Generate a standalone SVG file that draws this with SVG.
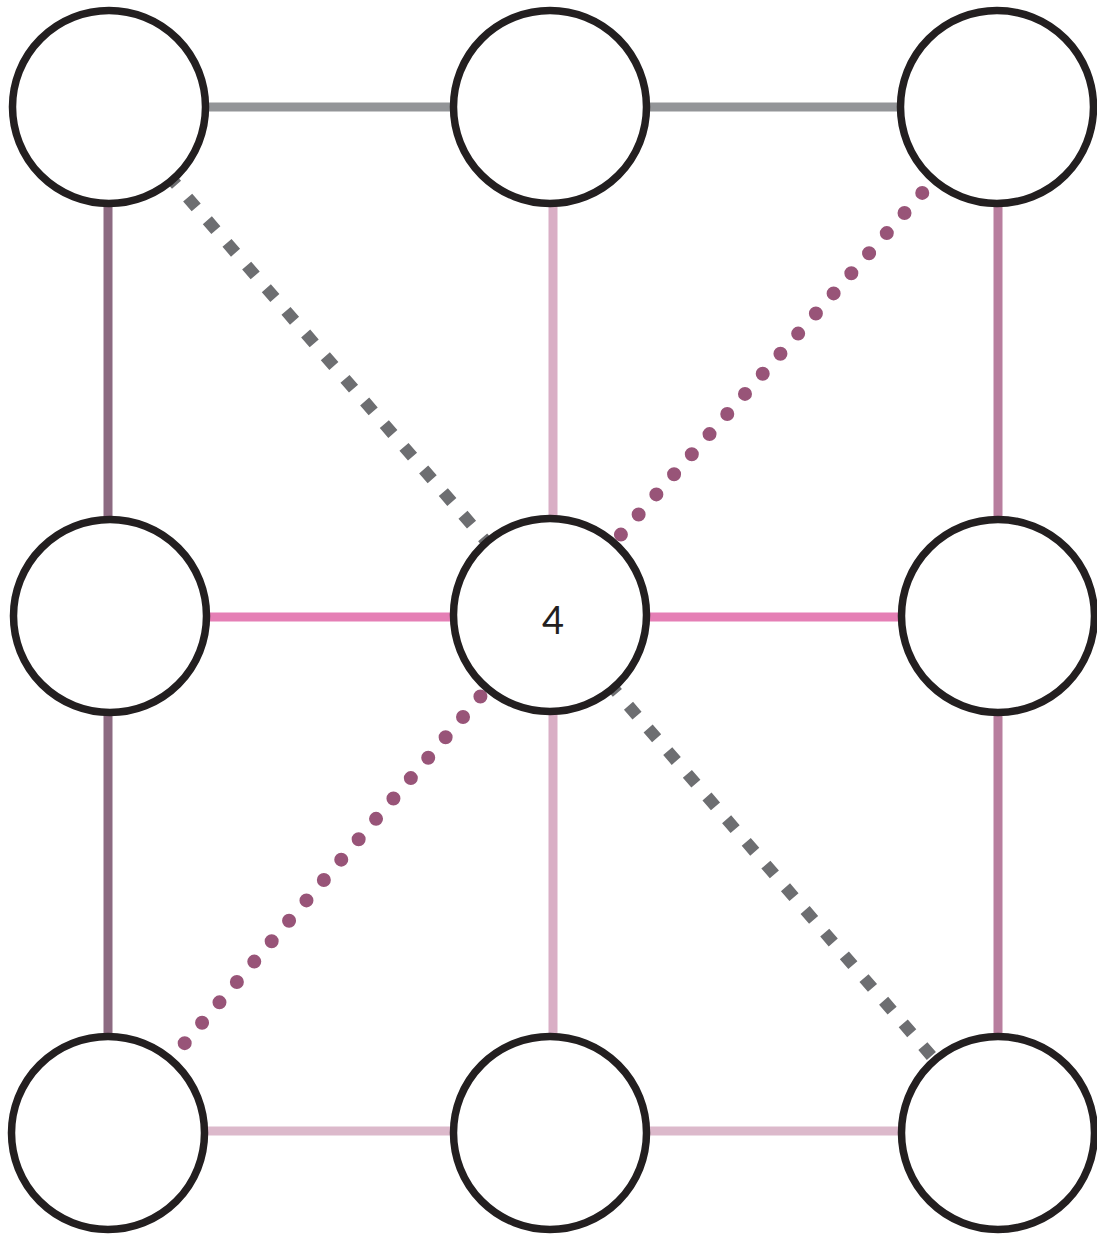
<svg xmlns="http://www.w3.org/2000/svg" width="1097" height="1235" viewBox="0 0 1097 1235">
<style>
.n{fill:#fff;stroke:#231f20;stroke-width:7.5}
.e{fill:none;stroke-width:9}
.dash{fill:none;stroke:#6d6e71;stroke-width:12;stroke-dasharray:13 17}
.dot{fill:none;stroke:#985478;stroke-width:14;stroke-linecap:round;stroke-dasharray:0 26.8}
.t{font-family:"Lato","Liberation Sans",sans-serif;font-size:38px;fill:#231f20;text-anchor:middle}
</style>
<rect width="1097" height="1235" fill="#fff"/>
<g id="connectors">
<line class="e" x1="109" y1="107" x2="550" y2="107" stroke="#939598"/>
<line class="e" x1="550" y1="107" x2="997" y2="107" stroke="#939598"/>
<line class="e" x1="108" y1="107" x2="108" y2="616" stroke="#8c6a81"/>
<line class="e" x1="108" y1="616" x2="108" y2="1133" stroke="#8c6a81"/>
<line class="e" x1="553" y1="107" x2="553" y2="616" stroke="#d9aec5"/>
<line class="e" x1="553" y1="616" x2="553" y2="1133" stroke="#d9aec5"/>
<line class="e" x1="998" y1="107" x2="998" y2="616" stroke="#b87e9e"/>
<line class="e" x1="998" y1="616" x2="998" y2="1133" stroke="#b87e9e"/>
<line class="e" x1="110" y1="617" x2="550" y2="617" stroke="#e57fb5"/>
<line class="e" x1="550" y1="617" x2="998" y2="617" stroke="#e57fb5"/>
<line class="e" x1="108" y1="1131" x2="550" y2="1131" stroke="#dcb9cb"/>
<line class="e" x1="550" y1="1131" x2="998" y2="1131" stroke="#dcb9cb"/>
<line class="dash" x1="109" y1="107" x2="550" y2="615"/>
<line class="dash" x1="550" y1="615" x2="998" y2="1133"/>
<line class="dot" x1="550" y1="615" x2="998" y2="107"/>
<line class="dot" x1="550" y1="615" x2="108" y2="1133"/>
</g>
<g id="n0"><circle class="n" cx="109" cy="107" r="96.5"/></g>
<g id="n1"><circle class="n" cx="550" cy="107" r="96.5"/></g>
<g id="n2"><circle class="n" cx="997" cy="107" r="96.5"/></g>
<g id="n3"><circle class="n" cx="110" cy="616" r="96.5"/></g>
<g id="n4"><circle class="n" cx="550" cy="615" r="96.5"/><text class="t" x="553" y="634">4</text></g>
<g id="n5"><circle class="n" cx="998" cy="616" r="96.5"/></g>
<g id="n6"><circle class="n" cx="108" cy="1133" r="96.5"/></g>
<g id="n7"><circle class="n" cx="550" cy="1133" r="96.5"/></g>
<g id="n8"><circle class="n" cx="998" cy="1133" r="96.5"/></g>
</svg>
